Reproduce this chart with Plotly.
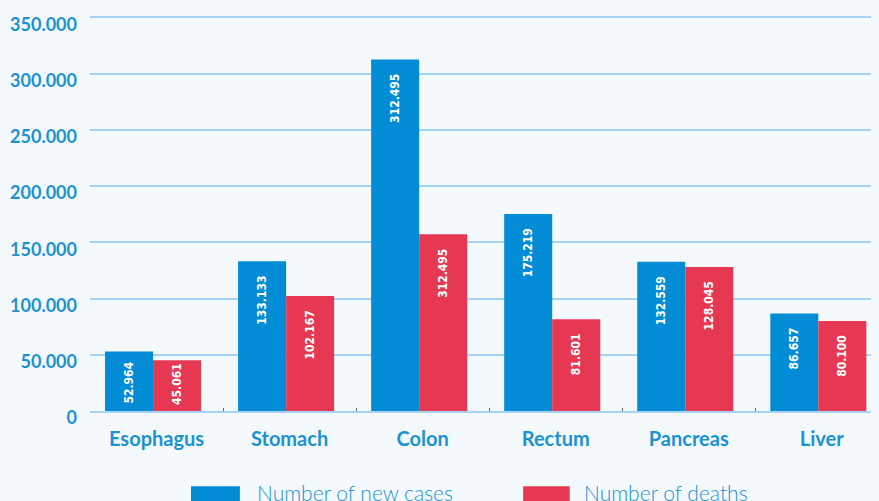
import plotly.graph_objects as go

categories = ["Esophagus", "Stomach", "Colon", "Rectum", "Pancreas", "Liver"]
new_cases = [52964, 133133, 312495, 175219, 132559, 86657]
deaths = [45061, 102167, 157000, 81601, 128045, 80100]
new_cases_labels = ["52.964", "133.133", "312.495", "175.219", "132.559", "86.657"]
deaths_labels = ["45.061", "102.167", "312.495", "81.601", "128.045", "80.100"]
y_ticks = [0, 50000, 100000, 150000, 200000, 250000, 300000, 350000]

BLUE = "#028cd6"
RED = "#e63852"
TXT = "#1b92d4"
BG = "#f4f9fe"
FONT = "Lato"


def padded(labels, values):
    out = []
    for t, v in zip(labels, values):
        n = 3 if v > 60000 else (2 if v > 50000 else 0)
        out.append(t + "\u00a0" * n)
    return out


bar_font = dict(color="white", size=12, family="DejaVu Sans Condensed", weight="bold")

fig = go.Figure()
fig.add_trace(go.Bar(
    x=categories, y=new_cases, name="Number of new cases",
    marker=dict(color=BLUE, line=dict(width=0)),
    width=0.361, offset=-0.387,
    text=padded(new_cases_labels, new_cases), textposition="inside",
    insidetextanchor="end", textangle=-90, textfont=bar_font,
))
fig.add_trace(go.Bar(
    x=categories, y=deaths, name="Number of deaths",
    marker=dict(color=RED, line=dict(width=0)),
    width=0.361, offset=-0.026,
    text=padded(deaths_labels, deaths), textposition="inside",
    insidetextanchor="end", textangle=-90, textfont=bar_font,
))

fig.update_layout(
    width=871, height=493,
    margin=dict(l=82, r=0, t=7, b=90, autoexpand=False),
    paper_bgcolor=BG, plot_bgcolor=BG,
    barmode="overlay",
    separators=",.",
    showlegend=False,
    uniformtext=dict(minsize=12, mode="show"),
    font=dict(family=FONT, color=TXT),
    xaxis=dict(
        range=[-0.5, 5.43], showgrid=False, automargin=False,
        tickson="boundaries", ticks="inside", ticklen=3, tickcolor="#5a6b78",
        showline=True, linecolor="#a5d3f1", linewidth=2,
        tickfont=dict(family=FONT, size=20, color=TXT, weight="bold"),
        ticklabelstandoff=9,
    ),
    yaxis=dict(
        range=[0, 352000], tickvals=y_ticks, tickformat=",d", automargin=False,
        showgrid=True, gridcolor="#a5d3f1", gridwidth=2,
        zeroline=False, showline=False,
        tickfont=dict(family=FONT, size=18, color=TXT, weight="bold"),
        ticklabelstandoff=12, ticklabelshift=7, ticklabeloverflow="allow",
    ),
)

# manual legend
legend_items = [("Number of new cases", BLUE, 0.128, 0.190, 0.209),
                ("Number of deaths", RED, 0.549, 0.608, 0.624)]
for name, color, x0, x1, xt in legend_items:
    fig.add_shape(type="rect", xref="paper", yref="paper",
                  x0=x0, x1=x1, y0=-0.245, y1=-0.19,
                  fillcolor=color, line=dict(width=0))
    fig.add_annotation(xref="paper", yref="paper", x=xt, y=-0.205,
                       text=name, showarrow=False, xanchor="left", yanchor="middle",
                       font=dict(family=FONT, size=21, color=TXT, weight=300))

fig.write_html("out.html", post_script="document.body.style.background='%s';" % BG)
